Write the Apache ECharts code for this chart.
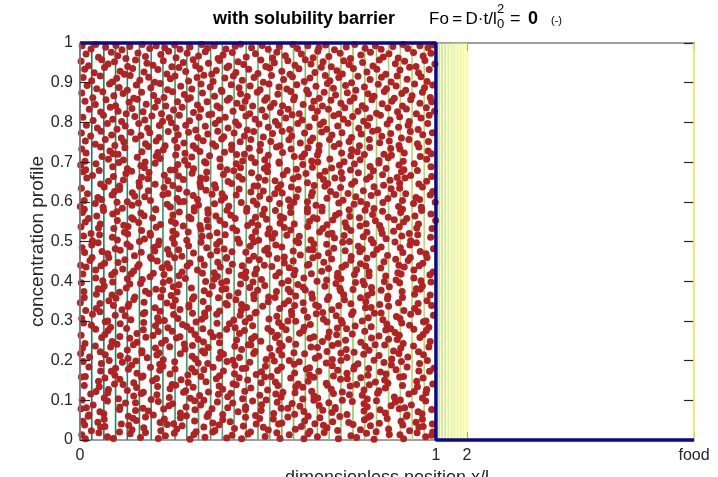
<!DOCTYPE html>
<html>
<head>
<meta charset="utf-8">
<script src="https://cdn.jsdelivr.net/npm/echarts@6/dist/echarts.min.js"></script>
<style>
  html, body { margin: 0; padding: 0; background: #ffffff; }
  #chart { width: 718px; height: 477px; }
</style>
</head>
<body>
<div id="chart"></div>
<script>
// Position ticks along x (layer 1 = 0..1, layer 2 = thin barrier, then food contact)
const tickPos = [0, 1, 1.087, 1.725];
const tickText = ['0', '1', '2', 'food'];

// Mesh node positions drawn as thin vertical lines
const meshLayer1 = [0, 0.033, 0.067, 0.1, 0.133, 0.167, 0.2, 0.233, 0.267, 0.3, 0.333, 0.367, 0.4, 0.433, 0.467,
  0.5, 0.533, 0.567, 0.6, 0.633, 0.667, 0.7, 0.733, 0.767, 0.8, 0.833, 0.867, 0.9, 0.933, 0.967];
const meshLayer2 = [1.009, 1.017, 1.026, 1.035, 1.044, 1.052, 1.061, 1.07, 1.078, 1.087];
const foodEdge = [1.725];

// Concentration profile at Fo = 0
const profileX = [0, 1, 1, 1.725];
const profileY = [1, 1, 0, 0];

// Molecule positions inside layer 1, in thousandths: [x/l, concentration]
const particles = [
  [6,993],[31,985],[44,996],[72,989],[101,994],[118,983],[140,991],[175,996],[196,986],[214,993],[238,988],[266,995],[281,984],[309,990],[342,996],[358,987],[377,993],[410,985],[436,992],[451,997],[482,988],[512,994],[529,984],[560,991],[598,996],[611,986],[640,993],[671,988],[690,995],[715,983],[748,990],[772,996],[801,987],[830,993],[846,984],[879,991],[907,996],[921,986],[955,993],[978,988],[993,995],
  [17,972],[52,964],[88,977],[106,968],[129,961],[163,975],[184,966],[227,971],[249,979],[270,963],[301,974],[333,967],[352,978],[388,961],[402,970],[428,976],[467,965],[493,973],[541,962],[553,977],[577,968],[622,972],[655,963],[668,979],[699,966],[731,974],[760,961],[789,970],[816,977],[852,965],[868,973],[894,962],[937,976],[964,967],[986,974],
  [3,954],[24,943],[61,958],[79,947],[97,953],[134,941],[156,957],[188,949],[205,944],[234,955],[258,940],[290,951],[318,958],[325,943],[361,949],[392,956],[418,942],[444,953],[460,946],[508,957],[522,941],[546,950],[584,955],[604,944],[633,958],[649,947],[683,953],[706,940],[741,955],[756,946],[794,951],[823,942],[841,957],[886,948],[912,954],[944,941],[969,956],[997,947],
  [13,934],[40,925],[69,938],[113,929],[125,921],[148,936],[180,927],[219,933],[244,922],[278,938],[297,928],[337,935],[370,921],[383,931],[413,938],[438,926],[474,934],[500,923],[533,937],[567,929],[590,921],[615,935],[660,926],[678,939],[722,930],[737,922],[768,936],[806,927],[834,934],[859,921],[899,932],[926,939],[951,925],[981,933],
  [9,913],[33,905],[57,917],[90,902],[103,911],[141,918],[168,906],[193,914],[210,901],[254,910],[267,917],[305,904],[329,913],[348,919],[374,903],[407,912],[431,917],[456,906],[489,913],[515,901],[538,918],[572,908],[597,915],[630,903],[646,912],[689,918],[702,905],[727,913],[763,900],[781,916],[815,908],[847,914],[874,902],[891,917],[919,909],[958,915],[975,903],
  [20,893],[47,885],[83,897],[110,888],[133,881],[158,894],[199,887],[225,898],[246,882],[283,891],[314,884],[340,897],[366,889],[397,881],[425,895],[447,887],[478,892],[506,882],[531,897],[559,889],[581,884],[609,895],[637,881],[663,891],[695,898],[712,886],[746,893],[775,881],[799,889],[838,896],[861,885],[888,892],[915,881],[940,897],[968,887],[991,894],
  [5,874],[36,862],[64,877],[95,867],[121,873],[151,861],[173,876],[207,868],[236,863],[260,877],[293,870],[310,862],[344,874],[378,866],[399,878],[420,861],[451,872],[470,865],[498,876],[525,862],[556,871],[592,878],[603,864],[642,872],[672,861],[686,876],[718,869],[751,875],[770,862],[809,872],[826,866],[855,878],[883,861],[904,873],[933,867],[962,876],[984,863],
  [14,853],[43,845],[73,857],[100,842],[138,851],[161,858],[186,846],[218,854],[241,841],[274,852],[303,858],[330,844],[357,852],[385,841],[414,856],[441,848],[464,853],[485,841],[519,856],[545,848],[569,842],[600,857],[627,845],[657,853],[681,841],[705,856],[733,848],[759,853],[793,842],[820,857],[849,847],[876,853],[906,841],[929,857],[955,848],[988,852],
  [26,833],[58,826],[85,838],[107,828],[130,822],[146,835],[177,827],[211,838],[229,822],[263,831],[287,838],[319,825],[339,833],[370,821],[393,836],[430,828],[456,837],[477,822],[511,831],[535,838],[563,825],[585,833],[616,822],[651,837],[667,828],[698,833],[727,821],[744,837],[781,828],[802,835],[833,823],[865,836],[892,827],[917,834],[945,822],[973,837],[996,828],
  [8,813],[37,805],[66,818],[92,808],[117,802],[154,815],[182,806],[202,816],[232,803],[251,812],[279,818],[308,804],[335,813],[362,819],[391,806],[408,813],[437,801],[466,816],[492,808],[521,815],[549,802],[578,811],[596,819],[624,806],[660,812],[684,801],[713,817],[740,808],[766,815],[797,803],[814,811],[844,818],[871,806],[898,814],[925,802],[958,811],[981,818],
  [18,793],[49,786],[77,797],[104,783],[127,791],[165,797],[190,785],[223,792],[257,799],[270,786],[297,793],[325,781],[352,790],[380,797],[416,786],[445,793],[470,781],[503,796],[529,788],[557,793],[589,782],[612,797],[644,789],[675,795],[693,783],[724,791],[753,798],[783,785],[808,792],[837,781],[863,796],[895,788],[922,793],[950,782],[977,797],
  [4,773],[30,766],[59,778],[89,768],[116,761],[143,775],[171,767],[196,774],[222,762],[248,777],[276,769],[305,775],[331,762],[359,771],[387,778],[404,764],[433,773],[462,766],[488,777],[515,763],[541,772],[568,778],[595,766],[631,773],[654,761],[679,776],[708,768],[736,774],[763,762],[790,771],[822,778],[848,765],[873,772],[903,761],[928,777],[963,769],[990,774],
  [15,753],[43,745],[71,757],[98,742],[123,751],[156,758],[184,746],[214,753],[239,741],[266,755],[292,748],[318,741],[346,754],[373,746],[398,758],[426,743],[450,751],[480,757],[507,745],[536,752],[562,741],[587,756],[619,748],[647,753],[672,742],[701,757],[728,746],[756,752],[785,741],[813,757],[842,749],[869,753],[896,742],[924,757],[948,746],[979,752],
  [5,733],[17,723],[58,738],[84,728],[93,721],[126,736],[174,726],[192,739],[219,724],[234,731],[273,737],[295,722],[326,734],[337,727],[381,740],[406,725],[426,732],[462,720],[476,735],[505,729],[552,738],[569,724],[593,733],[631,721],[641,736],[671,728],[714,739],[735,723],[763,731],[779,726],[814,737],[854,720],[873,734],[899,733],[911,723],[952,738],[978,728],[987,721],
  [14,702],[62,714],[80,707],[107,720],[122,705],[161,712],[183,700],[214,715],[225,709],[269,718],[294,704],[314,713],[350,701],[364,716],[393,708],[440,719],[457,703],[481,711],[519,706],[529,717],[559,700],[602,714],[623,713],[651,703],[667,718],[702,708],[742,701],[761,716],[787,706],[799,719],[840,704],[866,711],[875,717],[908,702],[956,714],[974,707],
  [2,693],[16,681],[45,696],[92,688],[109,699],[133,683],[171,691],[181,686],[211,697],[254,680],[275,694],[303,693],[319,683],[354,698],[394,688],[413,681],[439,696],[451,686],[492,699],[518,684],[527,691],[560,697],[608,682],[626,694],[653,687],[668,700],[707,685],[729,692],[760,680],[771,695],[815,689],[840,698],[860,684],[896,693],[910,681],[939,696],[986,688],
  [9,676],[35,666],[54,679],[94,664],[129,671],[145,677],[173,662],[194,674],[237,667],[267,680],[277,665],[315,672],[339,660],[356,675],[403,669],[432,678],[446,664],[482,673],[502,661],[527,676],[571,668],[582,679],[613,663],[635,671],[674,666],[689,677],[716,660],[734,674],[782,673],[815,663],[824,678],[850,668],[891,661],[903,676],[929,666],[948,679],[988,664],
  [19,660],[58,645],[80,652],[111,640],[122,655],[166,649],[191,658],[211,644],[247,653],[261,641],[290,656],[337,648],[354,659],[378,643],[416,651],[426,646],[456,657],[499,640],[520,654],[548,653],[564,643],[599,658],[639,648],[658,641],[684,656],[696,646],[737,659],[763,644],[772,651],[805,657],[853,642],[871,654],[898,647],[913,660],[952,645],[974,652],
  [4,634],[21,620],[68,637],[97,626],[111,631],[147,623],[167,639],[192,628],[236,636],[247,621],[278,633],[300,624],[339,638],[354,629],[381,635],[399,620],[447,632],[480,625],[489,640],[515,627],[556,634],[568,622],[594,637],[613,631],[653,624],[688,639],[704,626],[732,636],[753,621],[796,628],[826,638],[836,623],[874,633],[898,634],[915,620],[962,637],[991,626],
  [12,603],[50,611],[60,606],[90,617],[133,600],[154,614],[182,613],[198,603],[233,618],[273,608],[292,601],[318,616],[330,606],[371,619],[397,604],[406,611],[439,617],[487,602],[505,614],[532,607],[547,620],[586,605],[608,612],[639,600],[650,615],[694,609],[719,618],[739,604],[775,613],[789,601],[818,616],[865,608],[882,619],[906,603],[944,611],[954,606],[984,617],
  [1,588],[12,581],[43,596],[65,586],[104,599],[119,584],[146,591],[164,597],[212,582],[245,594],[254,587],[280,600],[321,585],[333,592],[359,580],[378,595],[418,589],[453,598],[469,584],[497,593],[518,581],[561,596],[591,588],[601,599],[639,583],[663,591],[680,586],[727,597],[756,580],[770,594],[806,593],[826,583],[851,598],[895,588],[906,581],[937,596],[959,586],[998,599],
  [7,573],[47,564],[66,578],[92,569],[104,575],[145,560],[171,572],[180,565],[213,580],[261,567],[279,574],[306,562],[321,577],[360,571],[382,564],[413,579],[424,566],[468,576],[493,561],[513,568],[549,578],[563,563],[592,573],[639,574],[656,560],[680,577],[718,566],[728,571],[758,563],[801,579],[822,568],[850,576],[866,561],[901,573],[941,564],[960,578],[986,569],
  [15,549],[24,558],[57,544],[105,553],[123,541],[150,556],[165,548],[204,559],[226,543],[257,551],[268,546],[312,557],[337,540],[357,554],[393,553],[407,543],[436,558],[483,548],[500,541],[524,556],[562,546],[572,559],[602,544],[645,551],[666,557],[694,542],[710,554],[745,547],[785,560],[804,545],[830,552],[842,540],[883,555],[909,549],[918,558],[951,544],[999,553],
  [3,537],[31,520],[52,534],[95,533],[125,523],[135,538],[173,528],[197,521],[214,536],[261,526],[290,539],[304,524],[340,531],[360,537],[385,522],[429,534],[440,527],[471,540],[493,525],[532,532],[547,520],[574,535],[592,529],[640,538],[673,524],[682,533],[708,521],[749,536],[761,528],[787,539],[806,523],[846,531],[881,526],[897,537],[925,520],[946,534],[989,533],
  [10,514],[35,502],[55,517],[91,511],[105,504],[134,519],[181,506],[198,516],[222,501],[260,508],[270,518],[300,503],[343,513],[364,514],[392,500],[408,517],[443,506],[483,511],[502,503],[528,519],[540,508],[581,516],[607,501],[616,513],[649,504],[697,518],[715,509],[742,515],[757,500],[796,512],[818,505],[849,520],[860,507],[904,514],[929,502],[949,517],[985,511],
  [6,484],[33,491],[51,497],[99,482],[132,494],[141,487],[167,500],[208,485],[220,492],[246,480],[265,495],[305,489],[340,498],[356,484],[384,493],[405,481],[448,496],[478,488],[488,499],[526,483],[550,491],[567,486],[614,497],[643,480],[657,494],[693,493],[713,483],[738,498],[782,488],[793,481],[824,496],[846,486],[885,499],[900,484],[927,491],[945,497],[993,482],
  [13,472],[34,460],[62,475],[78,469],[113,478],[153,464],[172,473],[198,461],[210,476],[251,468],[277,479],[286,463],[319,471],[367,466],[385,477],[412,460],[427,474],[466,473],[488,463],[519,478],[530,468],[574,461],[599,476],[619,466],[655,479],[669,464],[698,471],[745,477],[762,462],[786,474],[824,467],[834,480],[864,465],[907,472],[928,460],[956,475],[972,469],
  [2,440],[28,452],[69,445],[81,460],[107,447],[126,454],[166,442],[201,457],[217,451],[245,444],[266,459],[309,446],[339,456],[349,441],[387,448],[411,458],[428,443],[475,453],[504,454],[518,440],[554,457],[574,446],[599,451],[643,443],[654,459],[685,448],[707,456],[746,441],[761,453],[788,444],[806,458],[854,449],[887,455],[896,440],[922,452],[963,445],[975,460],
  [17,436],[44,428],[59,439],[98,423],[120,431],[151,426],[162,437],[206,420],[231,434],[251,433],[287,423],[301,438],[330,428],[377,421],[394,436],[418,426],[456,439],[466,424],[496,431],[539,437],[560,422],[588,434],[604,427],[639,440],[679,425],[698,432],[724,420],[736,435],[777,429],[803,438],[812,424],[845,433],[893,421],[911,436],[938,428],[953,439],[992,423],
  [8,418],[44,408],[64,401],[89,416],[133,406],[144,419],[175,404],[197,411],[236,417],[251,402],[278,414],[296,407],[344,420],[377,405],[386,412],[412,400],[453,415],[465,409],[491,418],[510,404],[550,413],[585,401],[601,416],[629,408],[650,419],[693,403],[723,411],[733,406],[771,417],[795,400],[812,414],[859,413],[888,403],[902,418],[938,408],[958,401],[983,416],
  [4,396],[51,381],[68,388],[92,398],[130,383],[140,393],[170,394],[213,380],[234,397],[262,386],[278,391],[313,383],[353,399],[372,388],[398,396],[410,381],[451,393],[477,384],[486,398],[519,389],[567,395],[585,380],[612,392],[627,385],[666,400],[688,387],[719,394],[730,382],[774,397],[799,391],[819,384],[855,399],[869,386],[898,396],[945,381],[962,388],[986,398],
  [11,374],[46,367],[62,380],[90,365],[111,372],[154,360],[184,375],[194,369],[232,378],[256,364],[273,373],[320,361],[349,376],[363,368],[399,379],[419,363],[444,371],[488,366],[499,377],[530,360],[552,374],[591,373],[606,363],[633,378],[651,368],[699,361],[732,376],[741,366],[767,379],[808,364],[820,371],[846,377],[865,362],[905,374],[940,367],[956,380],[984,365],
  [1,346],[12,359],[56,344],[81,351],[101,357],[137,342],[151,354],[180,347],[227,360],[244,345],[268,352],[306,340],[316,355],[346,349],[389,358],[410,344],[438,353],[454,341],[489,356],[529,348],[548,359],[574,343],[586,351],[627,346],[653,357],[662,340],[695,354],[743,353],[761,343],[788,358],[803,348],[842,341],[864,356],[895,346],[906,359],[950,344],[975,351],
  [16,326],[46,331],[56,323],[94,339],[118,328],[135,336],[182,321],[211,333],[225,324],[261,338],[281,329],[306,335],[350,320],[361,332],[392,325],[414,340],[453,327],[468,334],[495,322],[513,337],[561,331],[594,324],[603,339],[629,326],[670,336],[682,321],[708,328],[727,338],[767,323],[802,333],[818,334],[846,320],[867,337],[910,326],[940,331],[950,323],[988,339],
  [5,306],[35,317],[78,300],[99,314],[127,313],[143,303],[178,318],[218,308],[237,301],[263,316],[275,306],[316,319],[342,304],[351,311],[384,317],[432,302],[450,314],[477,307],[492,320],[531,305],[553,312],[584,300],[595,315],[639,309],[664,318],[684,304],[720,313],[734,301],[763,316],[810,308],[827,319],[851,303],[889,311],[899,306],[929,317],[972,300],[993,314],
  [10,295],[32,289],[71,298],[86,284],[113,293],[131,281],[179,296],[212,288],[221,299],[247,283],[288,291],[300,286],[326,297],[345,280],[385,294],[420,293],[436,283],[464,298],[485,288],[528,281],[558,296],[568,286],[606,299],[630,284],[647,291],[694,297],[723,282],[737,294],[773,287],[793,300],[818,285],[862,292],[873,280],[904,295],[926,289],[965,298],[980,284],
  [3,264],[44,279],[70,266],[79,276],[112,261],[160,268],[178,278],[205,263],[220,273],[259,274],[281,260],[312,277],[323,266],[367,271],[392,263],[412,279],[448,268],[462,276],[491,261],[538,273],[555,264],[579,278],[617,269],[627,275],[657,260],[700,272],[721,265],[749,280],[765,267],[800,274],[840,262],[859,277],[885,271],[897,264],[938,279],[964,266],[973,276],
  [14,243],[61,258],[90,248],[104,241],[140,256],[160,246],[185,259],[229,244],[240,251],[271,257],[293,242],[332,254],[347,247],[374,260],[392,245],[440,252],[473,240],[482,255],[508,249],[549,258],[561,244],[587,253],[606,241],[646,256],[681,248],[697,259],[725,243],[746,251],[789,246],[819,257],[829,240],[867,254],[891,253],[908,243],[955,258],[984,248],
  [7,231],[43,237],[57,222],[86,234],[133,227],[150,240],[174,225],[212,232],[222,220],[252,235],[295,229],[316,238],[344,224],[360,233],[395,221],[435,236],[454,228],[480,239],[492,223],[533,231],[559,226],[568,237],[601,220],[649,234],[667,233],[694,223],[709,238],[748,228],[770,221],[801,236],[812,226],[856,239],[881,224],[901,231],[937,237],[951,222],[980,234],
  [2,218],[27,209],[71,215],[82,200],[113,212],[135,205],[174,220],[189,207],[216,214],[234,202],[282,217],[315,211],[324,204],[350,219],[391,206],[403,216],[429,201],[448,208],[488,218],[523,203],[539,213],[567,214],[588,200],[631,217],[661,206],[671,211],[709,203],[733,219],[750,208],[797,216],[826,201],[840,213],[876,204],[896,218],[921,209],[965,215],[976,200],
  [9,198],[25,184],[60,193],[100,181],[119,196],[145,188],[157,199],[198,183],[224,191],[233,186],[266,197],[314,180],[332,194],[359,193],[374,183],[413,198],[435,188],[466,181],[477,196],[521,186],[546,199],[566,184],[602,191],[616,197],[645,182],[692,194],[709,187],[733,200],[771,185],[781,192],[811,180],[854,195],[875,189],[903,198],[919,184],[954,193],[994,181],
  [15,160],[58,174],[88,173],[98,163],[136,178],[160,168],[177,161],[224,176],[253,166],[267,179],[303,164],[323,171],[348,177],[392,162],[403,174],[434,167],[456,180],[495,165],[510,172],[537,160],[555,175],[603,169],[636,178],[645,164],[671,173],[712,161],[724,176],[750,168],[769,179],[809,163],[844,171],[860,166],[888,177],[909,160],[952,174],[982,173],
  [4,159],[52,148],[70,156],[97,141],[112,153],[151,144],[173,158],[204,149],[215,155],[259,140],[284,152],[304,145],[340,160],[354,147],[383,154],[430,142],[447,157],[471,151],[509,144],[519,159],[549,146],[592,156],[613,141],[641,148],[657,158],[692,143],[732,153],[751,154],[777,140],[789,157],[830,146],[856,151],[865,143],[898,159],[946,148],[964,156],[991,141],
  [12,137],[45,122],[54,134],[80,127],[121,140],[133,125],[159,132],[178,120],[218,135],[253,129],[269,138],[297,124],[318,133],[361,121],[391,136],[401,128],[439,139],[463,123],[480,131],[527,126],[556,137],[570,120],[606,134],[626,133],[651,123],[695,138],[706,128],[737,121],[759,136],[798,126],[813,139],[840,124],[858,131],[906,137],[939,122],[948,134],[974,127],
  [6,101],[30,116],[68,106],[78,119],[108,104],[151,111],[172,117],[200,102],[216,114],[251,107],[291,120],[310,105],[336,112],[348,100],[389,115],[415,109],[424,118],[457,104],[505,113],[523,101],[550,116],[565,108],[604,119],[626,103],[657,111],[668,106],[712,117],[737,100],[757,114],[793,113],[807,103],[836,118],[883,108],[900,101],[924,116],[962,106],[972,119],
  [18,81],[37,88],[77,98],[112,83],[128,93],[156,94],[177,80],[220,97],[250,86],[260,91],[298,83],[322,99],[339,88],[386,96],[415,81],[429,93],[465,84],[485,98],[510,89],[554,95],[565,80],[596,92],[618,85],[657,100],[672,87],[699,94],[717,82],[765,97],[798,91],[807,84],[833,99],[874,86],[886,96],[912,81],[931,88],[971,98],
  [3,79],[25,63],[56,71],[67,66],[111,77],[136,60],[156,74],[192,73],[206,63],[235,78],[282,68],[299,61],[323,76],[361,66],[371,79],[401,64],[444,71],[465,77],[493,62],[509,74],[544,67],[584,80],[603,65],[629,72],[641,60],[682,75],[708,69],[717,78],[750,64],[798,73],[816,61],[843,76],[858,68],[897,79],[919,63],[950,71],[961,66],[988,77],
  [8,47],[23,60],[50,45],[68,52],[116,40],[149,55],[158,49],[184,58],[225,44],[237,53],[263,41],[282,56],[322,48],[357,59],[373,43],[401,51],[422,46],[465,57],[495,40],[505,54],[543,53],[567,43],[584,58],[631,48],[660,41],[674,56],[710,46],[730,59],[755,44],[799,51],[810,57],[841,42],[863,54],[902,47],[917,60],[944,45],[962,52],[990,40],
  [13,38],[32,23],[58,33],[70,34],[111,20],[137,37],[146,26],[179,31],[227,23],[245,39],[272,28],[287,36],[326,21],[348,33],[379,24],[390,38],[434,29],[459,35],[479,20],[515,32],[529,25],[558,40],[605,27],[622,34],[646,22],[684,37],[694,31],[724,24],[767,39],[788,26],[816,36],[832,21],[867,28],[907,38],[926,23],[952,33],[964,34],[991,20],
  [5,13],[15,3],[53,18],[77,8],[94,4],[141,16],[170,6],[184,19],[220,4],[240,11],[265,17],[309,2],[320,14],[351,7],[373,20],[412,5],[427,12],[454,3],[472,15],[520,9],[553,18],[562,4],[588,13],[629,3],[641,16],[667,8],[686,19],[726,3],[761,11],[777,6],[805,17],[826,2],[869,14],[899,13],[909,3],[947,18],[971,8],[988,12]
];

// summer colormap for the mesh lines (teal -> yellow)
function summer(t) {
  const r = Math.round(255 * t);
  const g = Math.round(255 * (0.5 + 0.5 * t));
  const b = Math.round(255 * 0.4);
  return 'rgb(' + r + ',' + g + ',' + b + ')';
}
const meshAll = meshLayer1.concat(meshLayer2, foodEdge);
const meshData = meshAll.map((x, i) => [x, 0, i / (meshAll.length - 1)]);

const axisGray = '#808080';
const tickDark = '#262626';
const font = '"Liberation Sans", Arial, Helvetica, sans-serif';

const chart = echarts.init(document.getElementById('chart'), null, { renderer: 'canvas' });

function xLabel(v) {
  let best = 0;
  for (let i = 1; i < tickPos.length; i++) {
    if (Math.abs(tickPos[i] - v) < Math.abs(tickPos[best] - v)) best = i;
  }
  return tickText[best];
}

function titleText(x, y, text, size, weight) {
  return {
    type: 'text', x: x, y: y, z: 10,
    style: {
      text: text, fill: '#000000', textAlign: 'left', textVerticalAlign: 'middle',
      fontSize: size, fontWeight: weight || 'normal', fontFamily: font
    }
  };
}

// Box axes: every side keeps its own edge, ticks point inwards
function boxAxisLine() {
  return { show: true, onZero: false, lineStyle: { color: axisGray, width: 1.5 } };
}

chart.setOption({
  animation: false,
  backgroundColor: '#ffffff',
  textStyle: { fontFamily: font },
  grid: { left: 80, top: 43, width: 614, height: 397, containLabel: false, outerBoundsMode: 'none' },
  xAxis: [
    {
      type: 'value', position: 'bottom', min: 0, max: 1.725,
      name: 'dimensionless position x/l', nameLocation: 'middle', nameGap: 29, nameMoveOverlap: false,
      nameTextStyle: { fontSize: 18, color: tickDark, fontFamily: font },
      axisLine: boxAxisLine(),
      axisTick: { show: true, inside: true, length: 8, customValues: tickPos, lineStyle: { color: tickDark, width: 1 } },
      axisLabel: { show: true, customValues: tickPos, formatter: xLabel, margin: 8, fontSize: 16, color: tickDark, fontFamily: font },
      splitLine: { show: false }
    },
    {
      type: 'value', position: 'top', min: 0, max: 1.725,
      axisLine: boxAxisLine(),
      axisTick: { show: true, inside: true, length: 8, customValues: tickPos, lineStyle: { color: tickDark, width: 1 } },
      axisLabel: { show: false },
      splitLine: { show: false }
    }
  ],
  yAxis: [
    {
      type: 'value', position: 'left', min: 0, max: 1, interval: 0.1, z: 10,
      name: 'concentration profile', nameLocation: 'middle', nameGap: 33, nameRotate: 90, nameMoveOverlap: false,
      nameTextStyle: { fontSize: 19, color: tickDark, fontFamily: font },
      axisLine: boxAxisLine(),
      axisTick: { show: true, inside: true, length: 10, lineStyle: { color: tickDark, width: 1.2 } },
      axisLabel: { show: true, margin: 7, fontSize: 16, color: tickDark, fontFamily: font },
      splitLine: { show: false }
    },
    {
      type: 'value', position: 'right', min: 0, max: 1, interval: 0.1, z: 0,
      axisLine: boxAxisLine(),
      axisTick: { show: true, inside: true, length: 10, lineStyle: { color: tickDark, width: 1.2 } },
      axisLabel: { show: false },
      splitLine: { show: false }
    }
  ],
  graphic: [
    titleText(213, 19.5, 'with solubility barrier', 18, 'bold'),
    titleText(429, 19.5, 'Fo\u2009=\u2009D\u00b7t/l', 17),
    titleText(497, 9, '2', 13),
    titleText(497, 24, '0', 13),
    titleText(510, 19.5, '=', 18),
    titleText(528, 19.5, '0', 18, 'bold'),
    titleText(551, 21, '(-)', 11)
  ],
  series: [
    {
      name: 'mesh', type: 'custom', z: 1, silent: true, clip: false,
      data: meshData,
      encode: { x: 0, y: 1 },
      renderItem: function (params, api) {
        const x = api.value(0);
        const p0 = api.coord([x, 0]);
        const p1 = api.coord([x, 1]);
        const inBarrier = x > 1 && x < 1.5;
        return {
          type: 'line',
          shape: { x1: p0[0], y1: p0[1], x2: p1[0], y2: p1[1] },
          style: { stroke: summer(api.value(2)), lineWidth: inBarrier ? 2 : 1.6, opacity: inBarrier ? 0.7 : 1 }
        };
      }
    },
    {
      name: 'molecules', type: 'scatter', z: 2, silent: true,
      symbol: 'circle', symbolSize: 7,
      itemStyle: { color: '#b22222', opacity: 1 },
      data: particles.map(p => [p[0] / 1000, p[1] / 1000])
    },
    {
      name: 'profile', type: 'line', z: 3, silent: true, clip: false,
      showSymbol: false, symbol: 'none',
      lineStyle: { color: '#0a0a8c', width: 3.5 },
      data: profileX.map((x, i) => [x, profileY[i]])
    }
  ]
});
</script>
</body>
</html>
